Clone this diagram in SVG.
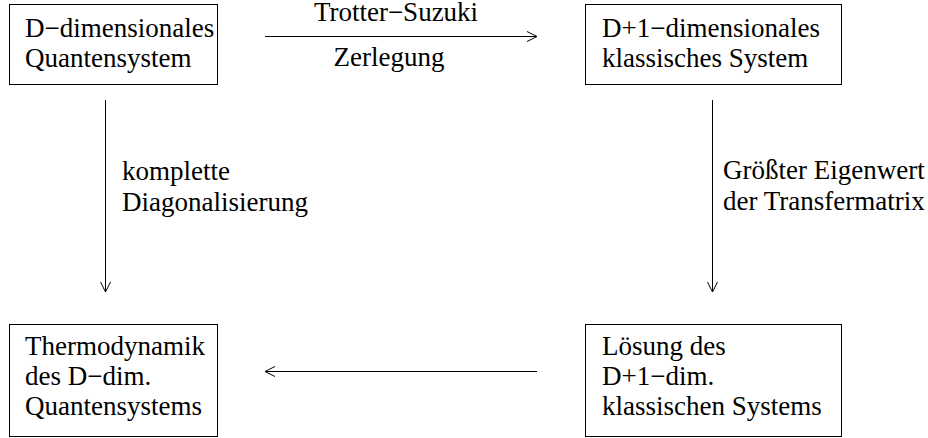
<svg xmlns="http://www.w3.org/2000/svg" width="928" height="438" viewBox="0 0 928 438" font-family="Liberation Serif" font-size="27">
<style>
text{font-family:"Liberation Serif","Times New Roman",serif;font-size:27px;fill:#000}
.box{fill:#fff;stroke:#000;stroke-width:1}
.c{text-anchor:middle}
.ln{stroke:#000;stroke-width:1;fill:none}
</style>
<defs>
<marker id="ah" viewBox="0 0 12 12" refX="11" refY="6" markerWidth="12" markerHeight="12" markerUnits="userSpaceOnUse" orient="auto">
<path d="M1,1 L11,6 L1,11" fill="none" stroke="#000" stroke-width="1"/>
</marker>
</defs>
<rect width="928" height="438" fill="#fff"/>
<g id="node-quantum">
<rect class="box" x="9.5" y="4.5" width="208" height="80"/>
<text x="25" y="37">D−dimensionales</text>
<text x="25" y="67">Quantensystem</text>
</g>
<g id="node-classical">
<rect class="box" x="585.5" y="4.5" width="256" height="80"/>
<text x="602" y="37">D+1−dimensionales</text>
<text x="602" y="67">klassisches System</text>
</g>
<g id="node-thermo">
<rect class="box" x="9.5" y="324.5" width="208" height="112"/>
<text x="25" y="355">Thermodynamik</text>
<text x="25" y="385">des D−dim.</text>
<text x="25" y="415">Quantensystems</text>
</g>
<g id="node-solution">
<rect class="box" x="585.5" y="324.5" width="256" height="112"/>
<text x="602" y="355">Lösung des</text>
<text x="602" y="385">D+1−dim.</text>
<text x="602" y="415">klassischen Systems</text>
</g>
<g id="connectors">
<line class="ln" x1="265" y1="36.5" x2="537" y2="36.5" marker-end="url(#ah)"/>
<line class="ln" x1="105.5" y1="100" x2="105.5" y2="292" marker-end="url(#ah)"/>
<line class="ln" x1="712.5" y1="100" x2="712.5" y2="292" marker-end="url(#ah)"/>
<line class="ln" x1="537" y1="371.5" x2="265" y2="371.5" marker-end="url(#ah)"/>
<text class="c" x="396" y="21">Trotter−Suzuki</text>
<text class="c" x="389" y="66">Zerlegung</text>
<text x="122" y="180">komplette</text>
<text x="122" y="211">Diagonalisierung</text>
<text x="723" y="179">Größter Eigenwert</text>
<text x="723" y="210">der Transfermatrix</text>
</g>
</svg>
